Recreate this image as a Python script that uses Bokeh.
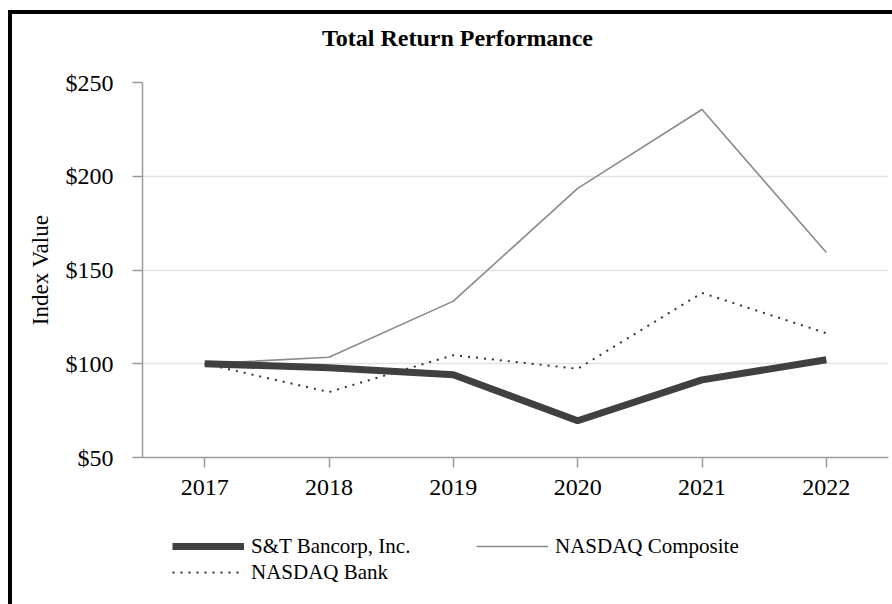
from bokeh.plotting import figure
from bokeh.layouts import column
from bokeh.models import (ColumnDataSource, FactorRange, Range1d, FixedTicker, Legend,
                          LegendItem, Label)
from bokeh.embed import file_html
from bokeh.resources import INLINE

years = ["2017", "2018", "2019", "2020", "2021", "2022"]
st_bancorp = [100, 97.9, 94.1, 69.6, 91.4, 102.1]
nasdaq_composite = [100, 103.5, 133.4, 193.5, 235.6, 159.3]
nasdaq_bank = [100, 84.9, 104.6, 97.3, 137.8, 116.3]
y_ticks = [50, 100, 150, 200, 250]
y_tick_labels = ["$50", "$100", "$150", "$200", "$250"]
series_names = ["S&T Bancorp, Inc.", "NASDAQ Composite", "NASDAQ Bank"]
title_text = "Total Return Performance"

src = ColumnDataSource(dict(year=years, st=st_bancorp, comp=nasdaq_composite, bank=nasdaq_bank))

FONT = "Liberation Serif"
W = 880
BORDERS = dict(min_border_left=130, min_border_right=4)

ST_STYLE = dict(line_color="#404040", line_width=7)
COMP_STYLE = dict(line_color="#8a8a8a", line_width=1.6)
BANK_STYLE = dict(line_color="#333333", line_width=2, line_dash="2 6")


def bare(fig):
    fig.outline_line_color = None
    fig.background_fill_color = "white"
    fig.border_fill_color = "white"
    fig.grid.grid_line_color = None


# ---- title strip ----
title_fig = figure(width=W, height=46, x_range=Range1d(0, 1), y_range=Range1d(0, 1),
                   x_axis_location=None, y_axis_location=None, output_backend="svg",
                   toolbar_location=None, min_border_top=0, min_border_bottom=0, **BORDERS)
bare(title_fig)
title_fig.add_layout(Label(x=315, y=23, x_units="screen", y_units="screen", text=title_text,
                           text_font=FONT, text_font_size="24px", text_font_style="bold",
                           text_color="black", text_align="center", text_baseline="middle"))

# ---- main chart ----
p = figure(width=W, height=447, x_range=FactorRange(*years, range_padding=0),
           y_range=Range1d(50, 250), output_backend="svg", toolbar_location=None,
           min_border_top=22, min_border_bottom=50, **BORDERS)
bare(p)
p.ygrid.grid_line_color = "#e2e2e2"
p.ygrid.grid_line_width = 1.5

for ax in (p.xaxis[0], p.yaxis[0]):
    ax.axis_line_color = "#9a9a9a"
    ax.axis_line_width = 1.5
    ax.major_tick_line_color = "#9a9a9a"
    ax.major_tick_line_width = 1.5
    ax.major_tick_in = 0
    ax.major_tick_out = 10
    ax.minor_tick_line_color = None
    ax.major_label_text_font = FONT
    ax.major_label_text_font_size = "24px"
    ax.major_label_text_color = "black"

p.xaxis.major_label_standoff = 12
p.yaxis.ticker = FixedTicker(ticks=y_ticks)
p.yaxis.major_label_overrides = {t: l for t, l in zip(y_ticks, y_tick_labels)}
p.yaxis.major_label_standoff = 19
p.yaxis.axis_label = "Index Value"
p.yaxis.axis_label_text_font = FONT
p.yaxis.axis_label_text_font_size = "23px"
p.yaxis.axis_label_text_font_style = "normal"
p.yaxis.axis_label_text_color = "black"
p.yaxis.axis_label_standoff = 10

p.line(x="year", y="comp", source=src, **COMP_STYLE)
p.line(x="year", y="bank", source=src, **BANK_STYLE)
p.line(x="year", y="st", source=src, **ST_STYLE)

# ---- legend strip (same series, drawn outside its view so only the keys show) ----
leg_fig = figure(width=W, height=97, x_range=FactorRange(*years), y_range=Range1d(0, 1),
                 x_axis_location=None, y_axis_location=None, output_backend="svg",
                 toolbar_location=None, min_border_top=0, min_border_bottom=0, **BORDERS)
bare(leg_fig)
k_st = leg_fig.line(x="year", y="st", source=src, **ST_STYLE)
k_comp = leg_fig.line(x="year", y="comp", source=src, **COMP_STYLE)
k_bank = leg_fig.line(x="year", y="bank", source=src, **BANK_STYLE)


def style_legend(lg):
    lg.label_text_font = FONT
    lg.label_text_font_size = "21px"
    lg.label_text_color = "black"
    lg.background_fill_alpha = 0
    lg.border_line_color = None
    lg.padding = 0
    lg.margin = 0
    lg.spacing = 0
    lg.glyph_width = 72
    lg.glyph_height = 26
    lg.label_height = 26
    lg.label_standoff = 7


leg_a = Legend(items=[LegendItem(label=series_names[0], renderers=[k_st]),
                      LegendItem(label=series_names[2], renderers=[k_bank])],
               location=(30, 19))
style_legend(leg_a)
leg_b = Legend(items=[LegendItem(label=series_names[1], renderers=[k_comp])],
               location=(334, 45))
style_legend(leg_b)
leg_fig.add_layout(leg_a)
leg_fig.add_layout(leg_b)

layout = column(title_fig, p, leg_fig, spacing=0)
layout.styles = {"border-left": "4px solid black", "border-top": "4px solid black",
                 "margin-left": "8px", "margin-top": "10px"}

open("out.html", "w").write(file_html(layout, INLINE))
